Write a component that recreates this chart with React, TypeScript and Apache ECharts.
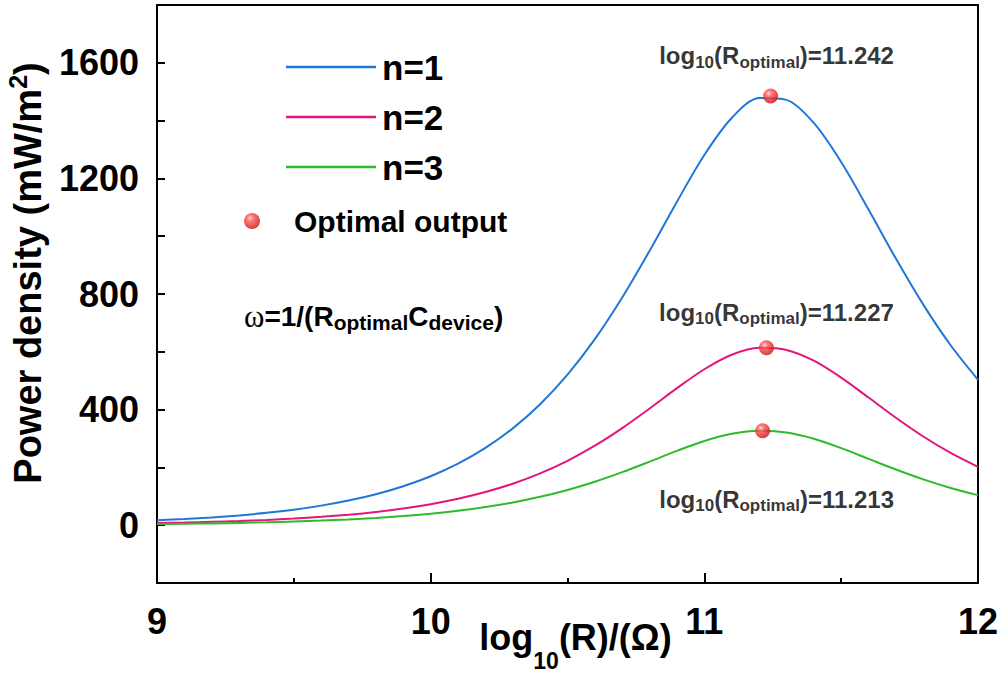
import React, { useEffect, useRef } from "react";
import * as echarts from "echarts";

const FF = "'Liberation Sans', Arial, Helvetica, sans-serif";

const xs = [9.0, 9.1, 9.2, 9.3, 9.4, 9.5, 9.6, 9.7, 9.8, 9.9, 10.0, 10.1, 10.2, 10.3, 10.4, 10.5, 10.6, 10.7, 10.8, 10.9, 11.0, 11.1, 11.2, 11.3, 11.4, 11.5, 11.6, 11.7, 11.8, 11.9, 12.0];
const n1 = [17.0, 21.4, 27.0, 33.9, 42.7, 53.8, 67.7, 85.2, 107.2, 134.9, 169.5, 213.0, 267.3, 335.1, 418.7, 520.9, 643.8, 787.8, 949.5, 1119.5, 1280.8, 1408.8, 1478.1, 1471.8, 1391.9, 1256.7, 1092.4, 922.6, 763.3, 622.7, 503.2];
const n2 = [7.3, 9.2, 11.6, 14.6, 18.3, 23.1, 29.0, 36.5, 46.0, 57.8, 72.7, 91.3, 114.6, 143.5, 179.2, 222.8, 275.0, 335.9, 403.7, 474.2, 539.6, 589.6, 613.8, 606.4, 569.2, 510.7, 441.8, 371.8, 306.9, 249.9, 201.7];
const n3 = [4.0, 5.0, 6.3, 8.0, 10.1, 12.7, 15.9, 20.1, 25.2, 31.7, 39.9, 50.1, 62.9, 78.7, 98.3, 122.1, 150.5, 183.5, 219.9, 257.3, 291.3, 316.2, 326.9, 320.5, 298.9, 266.6, 229.6, 192.6, 158.6, 129.0, 104.0];

const peakX = [11.242, 11.227, 11.213];
const peakY = [1485, 614, 327];
const peakText = ["11.242", "11.227", "11.213"];

const seriesNames = ["n=1", "n=2", "n=3"];
const seriesColors = ["#1f78d6", "#e3167c", "#2dbb2d"];
const seriesValues = [n1, n2, n3];

const yTickLabels = [0, 400, 800, 1200, 1600];

const peakRich = {
  m: { fontSize: 24, fontWeight: "bold", fontFamily: FF, color: "#000", lineHeight: 30 },
  s: { fontSize: 17, fontWeight: "bold", fontFamily: FF, color: "#000", lineHeight: 12, verticalAlign: "bottom" },
};
const omegaRich = {
  m: { fontSize: 28, fontWeight: "bold", fontFamily: FF, color: "#000", lineHeight: 32 },
  s: { fontSize: 21, fontWeight: "bold", fontFamily: FF, color: "#000", lineHeight: 18, verticalAlign: "bottom" },
  w: { fontSize: 31, fontFamily: "'Liberation Serif', 'DejaVu Serif', serif", color: "#000", lineHeight: 32 },
};

export default function App() {
  const ref = useRef<HTMLDivElement>(null);
  useEffect(() => {
    if (!ref.current) return;
    const chart = echarts.init(ref.current, undefined, { renderer: "svg" });
    const sphere = {
      type: "radial",
      x: 0.38,
      y: 0.32,
      r: 0.75,
      colorStops: [
        { offset: 0, color: "#ffd6d6" },
        { offset: 0.25, color: "#ff5a5a" },
        { offset: 0.75, color: "#e01c1c" },
        { offset: 1, color: "#b01010" },
      ],
    };
    const lineSeries = seriesNames.map((name, i) => ({
      name,
      type: "line",
      data: xs.map((x, j) => [x, seriesValues[i][j]]),
      smooth: 0.3,
      symbol: "none",
      showSymbol: false,
      lineStyle: { color: seriesColors[i], width: 2 },
      itemStyle: { color: seriesColors[i] },
      z: 2,
    }));
    const labelPlacement = [
      { position: "top", distance: 18, offset: [6, 0] },
      { position: "top", distance: 13, offset: [10, 0] },
      { position: "bottom", distance: 46, offset: [14, 0] },
    ];
    const frameLine = { show: true, onZero: false, lineStyle: { color: "#000", width: 2 } };
    const option = {
      animation: false,
      grid: { left: 157, right: 25, top: 5, bottom: 98, containLabel: false, outerBoundsMode: "none" },
      legend: [
        {
          data: seriesNames.map((n) => ({ name: n, icon: "rect" })),
          orient: "vertical",
          left: 281,
          top: 42,
          itemWidth: 90,
          itemHeight: 2.5,
          itemGap: 10,
          textStyle: { fontSize: 35, fontWeight: "bold", fontFamily: FF, color: "#000", lineHeight: 40, padding: [0, 0, 0, 1] },
        },
        {
          data: [{ name: "Optimal output", icon: "circle" }],
          left: 239,
          top: 201,
          itemWidth: 16,
          itemHeight: 16,
          textStyle: { fontSize: 30, fontWeight: "bold", fontFamily: FF, color: "#000", padding: [0, 0, 0, 29] },
        },
      ],
      xAxis: [
        {
          type: "value",
          min: 9,
          max: 12,
          interval: 1,
          name: "{b|log}{s|10}{b|(R)/(Ω)}",
          nameLocation: "middle",
          nameMoveOverlap: false,
          nameGap: 20,
          nameTextStyle: {
            padding: [0, 0, 0, 16],
            rich: {
              b: { fontSize: 36, fontWeight: "bold", fontFamily: FF, color: "#000", lineHeight: 69 },
              s: { fontSize: 23, fontWeight: "bold", fontFamily: FF, color: "#000", lineHeight: 20, verticalAlign: "bottom" },
            },
          },
          axisLine: frameLine,
          axisTick: { show: true, inside: true, length: 10, lineStyle: { color: "#000", width: 2 } },
          minorTick: { show: true, splitNumber: 2, length: 5, lineStyle: { color: "#000", width: 2 } },
          axisLabel: { fontSize: 36, fontWeight: "bold", fontFamily: FF, color: "#000", margin: 20 },
          splitLine: { show: false },
        },
        {
          type: "value",
          position: "top",
          min: 9,
          max: 12,
          interval: 1,
          axisLine: frameLine,
          axisTick: { show: false },
          axisLabel: { show: false },
          splitLine: { show: false },
        },
      ],
      yAxis: [
        {
          type: "value",
          min: -200,
          max: 1800,
          interval: 200,
          name: "{b|Power density (mW/m}{p|2}{b|)}",
          nameLocation: "middle",
          nameRotate: 90,
          nameGap: 106,
          nameTextStyle: {
            padding: [0, 0, 0, 42],
            rich: {
              b: { fontSize: 38, fontWeight: "bold", fontFamily: FF, color: "#000", lineHeight: 46 },
              p: { fontSize: 25, fontWeight: "bold", fontFamily: FF, color: "#000", lineHeight: 25, verticalAlign: "top" },
            },
          },
          axisLine: frameLine,
          axisTick: { show: true, inside: true, length: 8, lineStyle: { color: "#000", width: 2 } },
          axisLabel: {
            fontSize: 36,
            fontWeight: "bold",
            fontFamily: FF,
            color: "#000",
            margin: 18,
            formatter: (v: number) => (yTickLabels.indexOf(v) >= 0 ? String(v) : ""),
          },
          splitLine: { show: false },
        },
        {
          type: "value",
          position: "right",
          min: -200,
          max: 1800,
          interval: 200,
          axisLine: frameLine,
          axisTick: { show: false },
          axisLabel: { show: false },
          splitLine: { show: false },
        },
      ],
      series: [
        ...lineSeries,
        {
          name: "Optimal output",
          type: "scatter",
          symbol: "circle",
          symbolSize: 15,
          itemStyle: { color: sphere },
          z: 5,
          data: peakX.map((x, i) => ({
            value: [x, peakY[i]],
            label: {
              show: true,
              color: "#000",
              textBorderWidth: 0,
              ...labelPlacement[i],
              formatter: `{m|log}{s|10}{m|(R}{s|optimal}{m|)=${peakText[i]}}`,
              rich: peakRich,
            },
          })),
        },
      ],
      graphic: [
        {
          type: "text",
          left: 244,
          top: 301,
          style: {
            text: "{w|ω}{m|=1/(R}{s|optimal}{m|C}{s|device}{m|)}",
            rich: omegaRich,
          },
        },
      ],
    };
    chart.setOption(option as any);
    return () => chart.dispose();
  }, []);
  return <div ref={ref} style={{ position: "fixed", left: 0, top: 0, width: 1003, height: 681, background: "#fff" }} />;
}
